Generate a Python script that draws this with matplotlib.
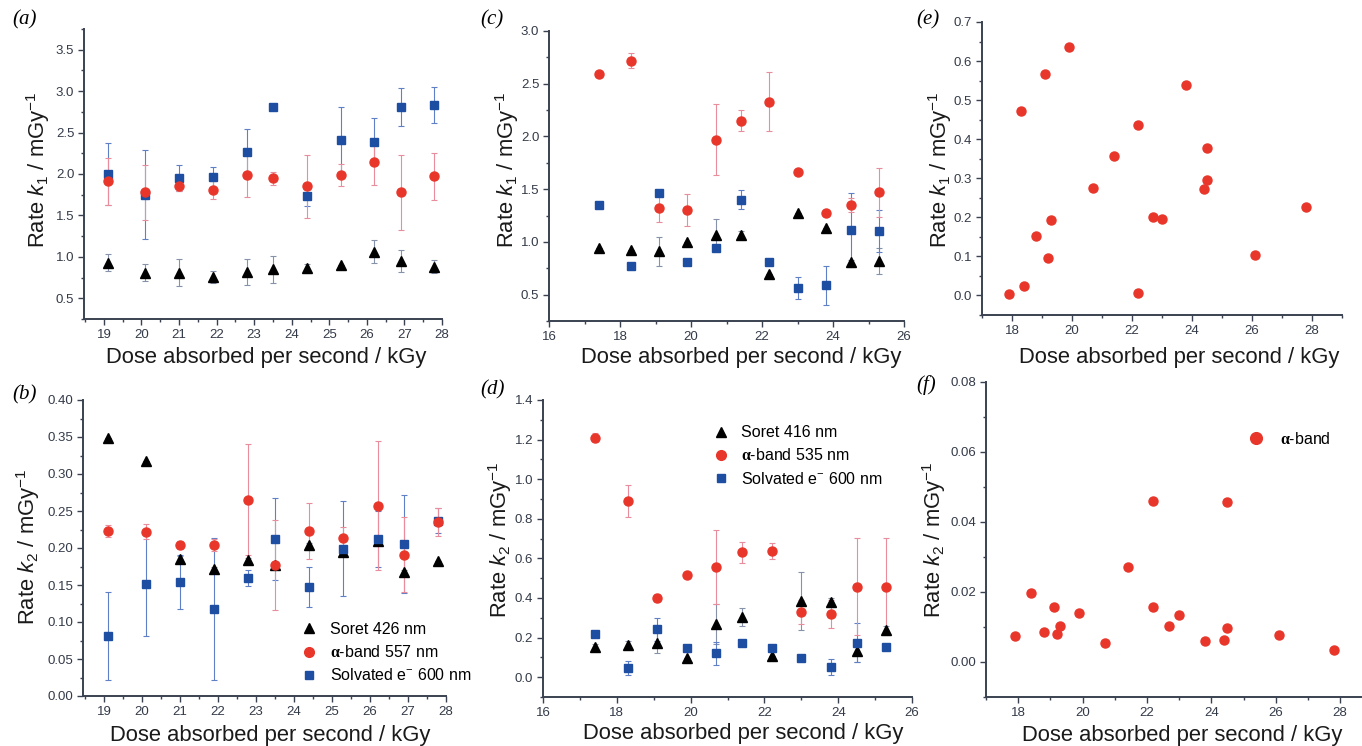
import numpy as np
import matplotlib
matplotlib.use('Agg')
import matplotlib.pyplot as plt
from matplotlib.ticker import MultipleLocator, FormatStrFormatter

plt.rcParams['font.family'] = ['Liberation Sans', 'DejaVu Sans']
plt.rcParams['mathtext.fontset'] = 'custom'
plt.rcParams['mathtext.rm'] = 'Liberation Sans'
plt.rcParams['mathtext.it'] = 'Liberation Sans:italic'
plt.rcParams['mathtext.bf'] = 'Liberation Serif:bold'

W, H = 1362, 746

#------------------------------------------------------------
# data
# (a), (b): first protein, doses in kGy/s
dose_ab = [19.1, 20.1, 21.0, 21.9, 22.8, 23.5, 24.4, 25.3, 26.2, 26.9, 27.8]

k1_soret_a = [0.93, 0.81, 0.81, 0.76, 0.82, 0.85, 0.86, 0.90, 1.06, 0.95, 0.88]
k1_soret_a_err = [0.10, 0.10, 0.16, 0.07, 0.16, 0.16, 0.05, 0.0, 0.14, 0.13, 0.08]
k1_alpha_a = [1.91, 1.78, 1.86, 1.81, 1.99, 1.95, 1.85, 1.99, 2.14, 1.78, 1.97]
k1_alpha_a_err = [0.28, 0.33, 0.07, 0.11, 0.27, 0.08, 0.38, 0.13, 0.27, 0.45, 0.28]
k1_solv_a = [2.00, 1.75, 1.95, 1.96, 2.26, 2.81, 1.73, 2.41, 2.39, 2.81, 2.83]
k1_solv_a_err = [0.37, 0.54, 0.16, 0.13, 0.28, 0.0, 0.12, 0.40, 0.28, 0.23, 0.22]

k2_soret_b = [0.349, 0.317, 0.185, 0.171, 0.184, 0.177, 0.204, 0.194, 0.210, 0.167, 0.183]
k2_soret_b_err = [0.0, 0.0, 0.004, 0.003, 0.003, 0.004, 0.003, 0.004, 0.004, 0.003, 0.0]
k2_alpha_b = [0.223, 0.222, 0.204, 0.204, 0.265, 0.177, 0.223, 0.213, 0.257, 0.191, 0.235]
k2_alpha_b_err = [0.008, 0.010, 0.006, 0.008, 0.075, 0.061, 0.038, 0.016, 0.087, 0.051, 0.019]
k2_solv_b = [0.081, 0.152, 0.154, 0.118, 0.159, 0.212, 0.147, 0.199, 0.212, 0.205, 0.237]
k2_solv_b_err = [0.059, 0.071, 0.037, 0.096, 0.011, 0.055, 0.027, 0.064, 0.038, 0.066, 0.017]

# (c), (d): second protein
dose_cd = [17.4, 18.3, 19.1, 19.9, 20.7, 21.4, 22.2, 23.0, 23.8, 24.5, 25.3]

k1_soret_c = [0.94, 0.92, 0.91, 1.00, 1.07, 1.07, 0.70, 1.27, 1.13, 0.81, 0.82]
k1_soret_c_err = [0.0, 0.0, 0.14, 0.0, 0.15, 0.03, 0.0, 0.0, 0.0, 0.02, 0.12]
k1_alpha_c = [2.59, 2.72, 1.32, 1.30, 1.97, 2.15, 2.33, 1.66, 1.27, 1.35, 1.47]
k1_alpha_c_err = [0.0, 0.07, 0.13, 0.15, 0.34, 0.10, 0.28, 0.0, 0.0, 0.07, 0.23]
k1_solv_c = [1.35, 0.77, 1.46, 0.81, 0.94, 1.40, 0.81, 0.56, 0.59, 1.11, 1.10]
k1_solv_c_err = [0.0, 0.0, 0.0, 0.0, 0.03, 0.09, 0.0, 0.105, 0.185, 0.35, 0.20]

k2_soret_d = [0.153, 0.165, 0.175, 0.099, 0.269, 0.303, 0.108, 0.385, 0.379, 0.131, 0.239]
k2_soret_d_err = [0.015, 0.02, 0.055, 0.0, 0.10, 0.046, 0.0, 0.146, 0.02, 0.055, 0.02]
k2_alpha_d = [1.21, 0.89, 0.40, 0.517, 0.555, 0.631, 0.638, 0.328, 0.321, 0.456, 0.456]
k2_alpha_d_err = [0.023, 0.082, 0.02, 0.0, 0.187, 0.052, 0.039, 0.06, 0.07, 0.245, 0.245]
k2_solv_d = [0.217, 0.047, 0.241, 0.146, 0.121, 0.175, 0.146, 0.098, 0.050, 0.175, 0.153]
k2_solv_d_err = [0.0, 0.036, 0.06, 0.0, 0.059, 0.01, 0.0, 0.01, 0.041, 0.10, 0.0]

# (e), (f): alpha-band only
dose_e = [17.9, 18.3, 18.4, 18.8, 19.1, 19.2, 19.3, 19.9, 20.7, 21.4,
          22.2, 22.2, 22.7, 23.0, 23.8, 24.4, 24.5, 24.5, 26.1, 27.8]
k1_alpha_e = [0.004, 0.472, 0.024, 0.151, 0.567, 0.095, 0.192, 0.635, 0.276, 0.358,
              0.437, 0.007, 0.202, 0.196, 0.539, 0.272, 0.295, 0.377, 0.104, 0.226]

dose_f = [17.9, 18.4, 18.8, 19.1, 19.2, 19.3, 19.9, 20.7, 21.4, 22.2,
          22.2, 22.7, 23.0, 23.8, 24.4, 24.5, 24.5, 26.1, 27.8]
k2_alpha_f = [0.0074, 0.0198, 0.0087, 0.0156, 0.0080, 0.0102, 0.0139, 0.0053, 0.0272, 0.0461,
              0.0158, 0.0102, 0.0134, 0.0060, 0.0064, 0.0456, 0.0097, 0.0077, 0.0033]

#------------------------------------------------------------
RED = '#e8362b'
BLUE = '#1d4ea2'
BLACK = '#000000'
AXC = '#3a4150'

fig = plt.figure(figsize=(W / 100, H / 100), dpi=100)


def px(x, y):
    return x / W, 1 - y / H


def make_axes(left, right, top, bottom, xlim, ylim, xmaj, ymaj, yfmt,
              xfmt='%d'):
    ax = fig.add_axes([left / W, 1 - bottom / H, (right - left) / W, (bottom - top) / H])
    ax.set_xlim(xlim)
    ax.set_ylim(ylim)
    for s in ['top', 'right']:
        ax.spines[s].set_visible(False)
    for s in ['left', 'bottom']:
        ax.spines[s].set_color(AXC)
        ax.spines[s].set_linewidth(1.4)
    ax.xaxis.set_major_locator(MultipleLocator(xmaj))
    ax.xaxis.set_minor_locator(MultipleLocator(xmaj / 2))
    ax.yaxis.set_major_locator(MultipleLocator(ymaj))
    ax.yaxis.set_minor_locator(MultipleLocator(ymaj / 2))
    ax.xaxis.set_major_formatter(FormatStrFormatter(xfmt))
    ax.yaxis.set_major_formatter(FormatStrFormatter(yfmt))
    ax.tick_params(which='major', direction='out', length=4, width=1.0,
                   color=AXC, labelcolor='#333a48', labelsize=9.5, pad=3)
    ax.tick_params(which='minor', direction='out', length=2.5, width=1.0, color=AXC)
    return ax


def labels(ax, ylab, xlab_xy, ylab_xy):
    ax.set_xlabel('Dose absorbed per second / kGy', fontsize=15.8, color='#1a1a1a')
    ax.set_ylabel(ylab, fontsize=15.8, color='#1a1a1a')
    ax.xaxis.label.set_va('center')
    ax.yaxis.label.set_va('center')
    ax.xaxis.set_label_coords(*px(*xlab_xy), transform=fig.transFigure)
    ax.yaxis.set_label_coords(*px(*ylab_xy), transform=fig.transFigure)


def three(ax, x, s, se, a, ae, v, ve):
    ax.errorbar(x, s, yerr=se, fmt='^', ms=6.5, color=BLACK, ecolor='#8592aa',
                elinewidth=0.8, capsize=2, capthick=0.8, label='Soret')
    ax.errorbar(x, v, yerr=ve, fmt='s', ms=5.5, color=BLUE, ecolor='#5f80c6',
                elinewidth=0.8, capsize=2, capthick=0.8, label='Solvated')
    ax.errorbar(x, a, yerr=ae, fmt='o', ms=6.5, color=RED, ecolor='#e98c9c',
                elinewidth=0.8, capsize=2, capthick=0.8, label='alpha')


K1 = r'Rate $k_1$ / mGy$^{-1}$'
K2 = r'Rate $k_2$ / mGy$^{-1}$'
ALPHA = r'$\mathbf{\alpha}$'

# (a)
ax = make_axes(84, 442, 29, 319, (18.47, 28), (0.25, 3.75), 1, 0.5, '%.1f')
three(ax, dose_ab, k1_soret_a, k1_soret_a_err, k1_alpha_a, k1_alpha_a_err,
      k1_solv_a, k1_solv_a_err)
labels(ax, K1, (266, 358), (38, 170))

# (b)
ax = make_axes(83, 446, 400, 696, (18.45, 28), (0.0, 0.40), 1, 0.05, '%.2f')
three(ax, dose_ab, k2_soret_b, k2_soret_b_err, k2_alpha_b, k2_alpha_b_err,
      k2_solv_b, k2_solv_b_err)
labels(ax, K2, (270, 735), (28, 547))
h = [plt.Line2D([], [], ls='', marker='^', ms=7, color=BLACK),
     plt.Line2D([], [], ls='', marker='o', ms=7, color=RED),
     plt.Line2D([], [], ls='', marker='s', ms=6, color=BLUE)]
ax.legend(h, ['Soret 426 nm', ALPHA + '-band 557 nm', r'Solvated e$^{-}$ 600 nm'],
          loc='upper left', bbox_to_anchor=(0.60, 0.25), frameon=False,
          fontsize=11.5, handlelength=1.0, handletextpad=0.8, borderpad=0,
          borderaxespad=0, labelspacing=0.45)

# (c)
ax = make_axes(549, 904, 31, 321, (16, 26), (0.25, 3.0), 2, 0.5, '%.1f')
three(ax, dose_cd, k1_soret_c, k1_soret_c_err, k1_alpha_c, k1_alpha_c_err,
      k1_solv_c, k1_solv_c_err)
labels(ax, K1, (741, 358), (507, 170))

# (d)
ax = make_axes(543, 912, 400, 697, (16, 26), (-0.1, 1.4), 2, 0.2, '%.1f')
three(ax, dose_cd, k2_soret_d, k2_soret_d_err, k2_alpha_d, k2_alpha_d_err,
      k2_solv_d, k2_solv_d_err)
labels(ax, K2, (743, 734), (500, 540))
ax.legend(h, ['Soret 416 nm', ALPHA + '-band 535 nm', r'Solvated e$^{-}$ 600 nm'],
          loc='upper left', bbox_to_anchor=(0.46, 0.915), frameon=False,
          fontsize=11.5, handlelength=1.0, handletextpad=0.8, borderpad=0,
          borderaxespad=0, labelspacing=0.45)

# (e)
ax = make_axes(982, 1342, 22, 315, (17, 29), (-0.05, 0.7), 2, 0.1, '%.1f')
ax.plot(dose_e, k1_alpha_e, 'o', ms=6.5, color=RED)
labels(ax, K1, (1179, 358), (940, 170))

# (f)
ax = make_axes(986, 1361, 382, 697, (17, 28.65), (-0.01, 0.08), 2, 0.02, '%.2f')
ax.plot(dose_f, k2_alpha_f, 'o', ms=6.5, color=RED, label=ALPHA + '-band')
labels(ax, K2, (1182, 735), (934, 540))
ax.legend(loc='upper left', bbox_to_anchor=(0.70, 0.845), frameon=False,
          fontsize=11.5, handlelength=1.0, handletextpad=1.0, borderpad=0,
          borderaxespad=0, markerscale=1.3)

# panel letters
for lab, x, y in [('a', 12, 20), ('b', 12, 395), ('c', 480, 20),
                  ('d', 480, 390), ('e', 916, 20), ('f', 916, 385)]:
    fig.text(*px(x, y), '(' + lab + ')', family=['Liberation Serif', 'DejaVu Serif'],
             style='italic', fontsize=15, va='center', ha='left')

fig.savefig('out.png', dpi=100)
